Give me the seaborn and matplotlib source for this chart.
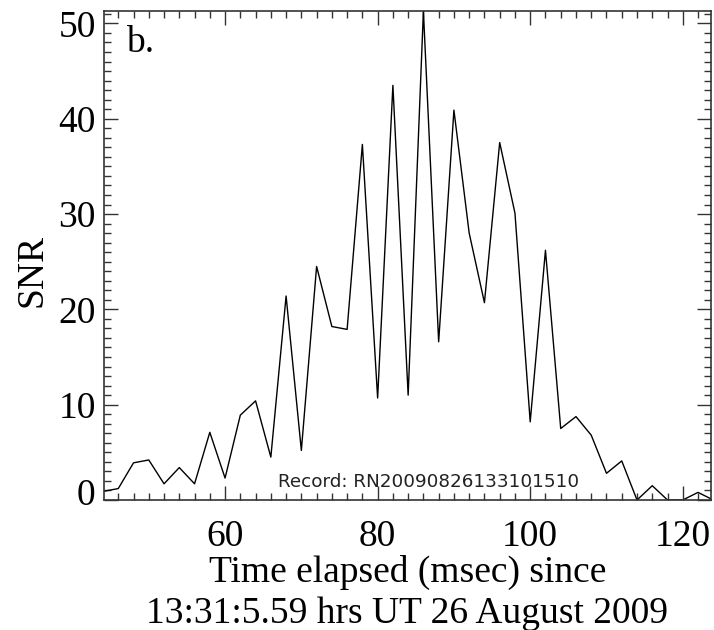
import numpy as np
import pandas as pd
import matplotlib
matplotlib.use("Agg")
import matplotlib.pyplot as plt
import matplotlib.transforms as mtransforms
import seaborn as sns
from matplotlib.ticker import MultipleLocator

# Data
time_ms = [44, 46, 48, 50, 52, 54, 56, 58, 60, 62, 64, 66, 68, 70, 72, 74, 76, 78,
           80, 82, 84, 86, 88, 90, 92, 94, 96, 98, 100, 102, 104, 106, 108, 110,
           112, 114, 116, 118, 120, 122, 124]
snr = [0.9, 1.2, 3.9, 4.2, 1.7, 3.4, 1.7, 7.1, 2.3, 8.9, 10.4, 4.5, 21.4, 5.2,
       24.5, 18.2, 17.9, 37.3, 10.7, 43.5, 11.0, 51.3, 16.6, 40.9, 28.0, 20.7,
       37.5, 30.1, 8.2, 26.2, 7.5, 8.75, 6.8, 2.8, 4.1, 0.0, 1.5, 0.0, 0.0, 0.8, 0.0]
x_ticks = [60, 80, 100, 120]
y_ticks = [0, 10, 20, 30, 40, 50]
panel_label = "b."
record_text = "Record: RN20090826133101510"
x_label = "Time elapsed (msec) since\n13:31:5.59 hrs UT 26 August 2009"
y_label = "SNR"

df = pd.DataFrame({"time": time_ms, "snr": snr})

sns.set_style("ticks")
plt.rcParams["font.family"] = ["Liberation Serif", "DejaVu Serif"]
plt.rcParams["text.color"] = "black"
plt.rcParams["axes.labelcolor"] = "black"
plt.rcParams["xtick.labelcolor"] = "black"
plt.rcParams["ytick.labelcolor"] = "black"

fig = plt.figure(figsize=(7.14, 6.30), dpi=100)
ax = fig.add_axes([104 / 714, 1 - 500 / 630, (711 - 104) / 714, (500 - 11) / 630])

sns.lineplot(data=df, x="time", y="snr", ax=ax, color="black", linewidth=1.0)

ax.set_xlim(44.13, 123.7)
ax.set_ylim(0, 51.3)
ax.set_xticks(x_ticks)
ax.set_yticks(y_ticks)
ax.xaxis.set_minor_locator(MultipleLocator(2))
ax.yaxis.set_minor_locator(MultipleLocator(1))
ax.tick_params(which="both", direction="in", top=True, right=True,
               color="#333333", width=1.0)
ax.tick_params(which="major", length=10, labelsize=27)
ax.tick_params(which="minor", length=5)
ax.tick_params(axis="x", which="major", pad=14)
ax.tick_params(axis="y", which="major", pad=6)
for s in ax.spines.values():
    s.set_linewidth(1.2)
    s.set_color("#333333")

ax.set_xlabel(x_label, fontsize=27, labelpad=1, linespacing=1.22)
ax.set_ylabel(y_label, fontsize=27, labelpad=6)
ax.yaxis.set_label_coords(-0.09, 0.47)

ax.text(47.0, 47.0, panel_label, fontsize=27, ha="left", va="baseline")
ax.text(67.0, 1.4, record_text, fontsize=13.2, ha="left", va="baseline",
        family=["DejaVu Sans"], color="#222222")

# lift the "0" label slightly as in the reference
fig.canvas.draw()
for lbl in ax.get_yticklabels():
    if lbl.get_text() == "0":
        lbl.set_transform(lbl.get_transform() +
                          mtransforms.ScaledTranslation(0, 8 / 100, fig.dpi_scale_trans))

fig.savefig("out.png", dpi=100)
